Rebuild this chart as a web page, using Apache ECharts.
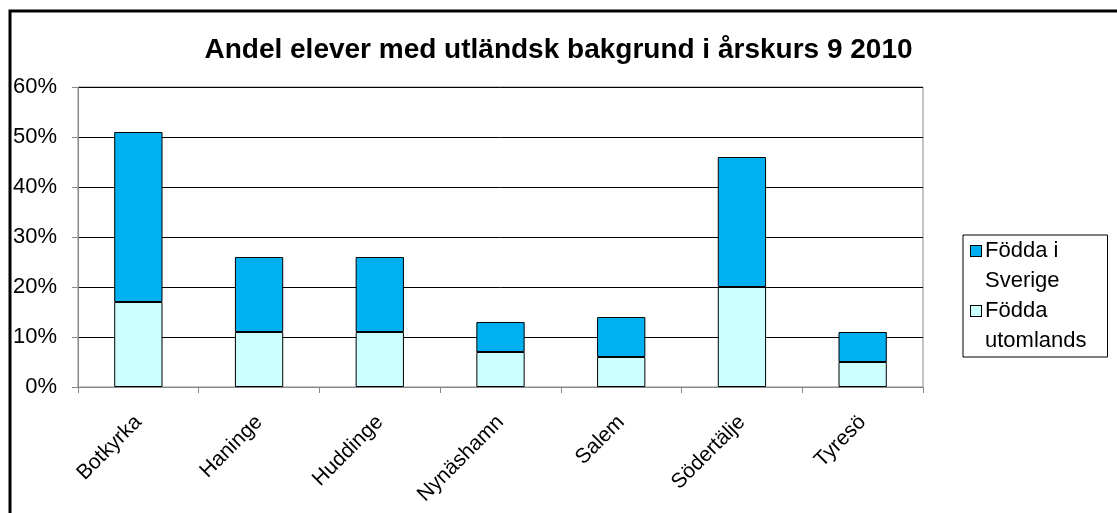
<!DOCTYPE html>
<html>
<head>
<meta charset="utf-8">
<style>
  html, body { margin: 0; padding: 0; background: #fff; }
  #chart { width: 1117px; height: 513px; }
</style>
<script src="https://cdn.jsdelivr.net/npm/echarts@6/dist/echarts.min.js"></script>
</head>
<body>
<div id="chart"></div>
<script>
  // kommuner
  var categories = ['Botkyrka', 'Haninge', 'Huddinge', 'Nynäshamn', 'Salem', 'Södertälje', 'Tyresö']
  // andel i procent
  var utomlands = [17, 11, 11, 7, 6, 20, 5]
  var sverige = [34, 15, 15, 6, 8, 26, 6]
  var yTicks = [0, 10, 20, 30, 40, 50, 60]

  var font = 'Liberation Sans, Arial, sans-serif'
  var colSverige = '#00b0f0'
  var colUtomlands = '#ccffff'
  var chart = echarts.init(document.getElementById('chart'), null, { renderer: 'canvas' })

  var option = {
    animation: false,
    title: {
      text: 'Andel elever med utländsk bakgrund i årskurs 9 2010',
      left: 'center',
      top: 31,
      textStyle: { fontFamily: font, fontSize: 28, fontWeight: 'bold', color: '#000' }
    },
    graphic: [{
      type: 'polyline',
      shape: { points: [[10, 513], [10, 11], [1117, 11]] },
      style: { stroke: '#000', lineWidth: 3, fill: null }
    }],
    legend: {
      orient: 'vertical',
      left: 963,
      top: 235,
      padding: [1, 21, 1, 3],
      itemGap: 0,
      itemWidth: 0,
      itemHeight: 11,
      itemStyle: { opacity: 0, borderWidth: 0 },
      borderColor: '#000',
      borderWidth: 1,
      data: ['Födda i Sverige', 'Födda utomlands'],
      formatter: function (name) {
        var box = name.indexOf('Sverige') >= 0 ? 'sv' : 'ut'
        var parts = name.replace(/ (Sverige|utomlands)/, '\n$1').split('\n')
        return '{' + box + '|}{g|}{t|' + parts[0] + '}\n{p|}{t|' + parts[1] + '}'
      },
      textStyle: {
        fontFamily: font,
        fontSize: 22,
        color: '#000',
        lineHeight: 30,
        rich: {
          sv: { width: 10, height: 10, backgroundColor: colSverige, borderColor: '#000', borderWidth: 1 },
          ut: { width: 10, height: 10, backgroundColor: colUtomlands, borderColor: '#000', borderWidth: 1 },
          g: { width: 4 },
          p: { width: 14 },
          t: { fontFamily: font, fontSize: 22, color: '#000', lineHeight: 30 }
        }
      }
    },
    grid: {
      left: 78,
      right: 194,
      top: 87,
      bottom: 126,
      show: true,
      borderColor: '#888',
      borderWidth: 1
    },
    xAxis: {
      type: 'category',
      data: categories,
      axisLine: { lineStyle: { color: '#888' } },
      axisTick: { show: true, length: 6, lineStyle: { color: '#888' } },
      axisLabel: {
        rotate: 45,
        margin: 32,
        fontFamily: font,
        fontSize: 21,
        color: '#000'
      }
    },
    yAxis: {
      type: 'value',
      min: 0,
      max: 60,
      interval: 10,
      axisLine: { show: true, lineStyle: { color: '#888' } },
      axisTick: { show: true, length: 6, lineStyle: { color: '#888' } },
      axisLabel: {
        formatter: '{value}%',
        margin: 21,
        fontFamily: font,
        fontSize: 22,
        color: '#000'
      },
      splitLine: { lineStyle: { color: '#000', width: 1 } }
    },
    series: [{
      name: 'Födda utomlands',
      type: 'bar',
      stack: 'total',
      barWidth: '40%',
      data: utomlands,
      itemStyle: { color: colUtomlands, borderColor: '#000', borderWidth: 1 }
    }, {
      name: 'Födda i Sverige',
      type: 'bar',
      stack: 'total',
      barWidth: '40%',
      data: sverige,
      itemStyle: { color: colSverige, borderColor: '#000', borderWidth: 1 }
    }]
  }

  chart.setOption(option)
</script>
</body>
</html>
